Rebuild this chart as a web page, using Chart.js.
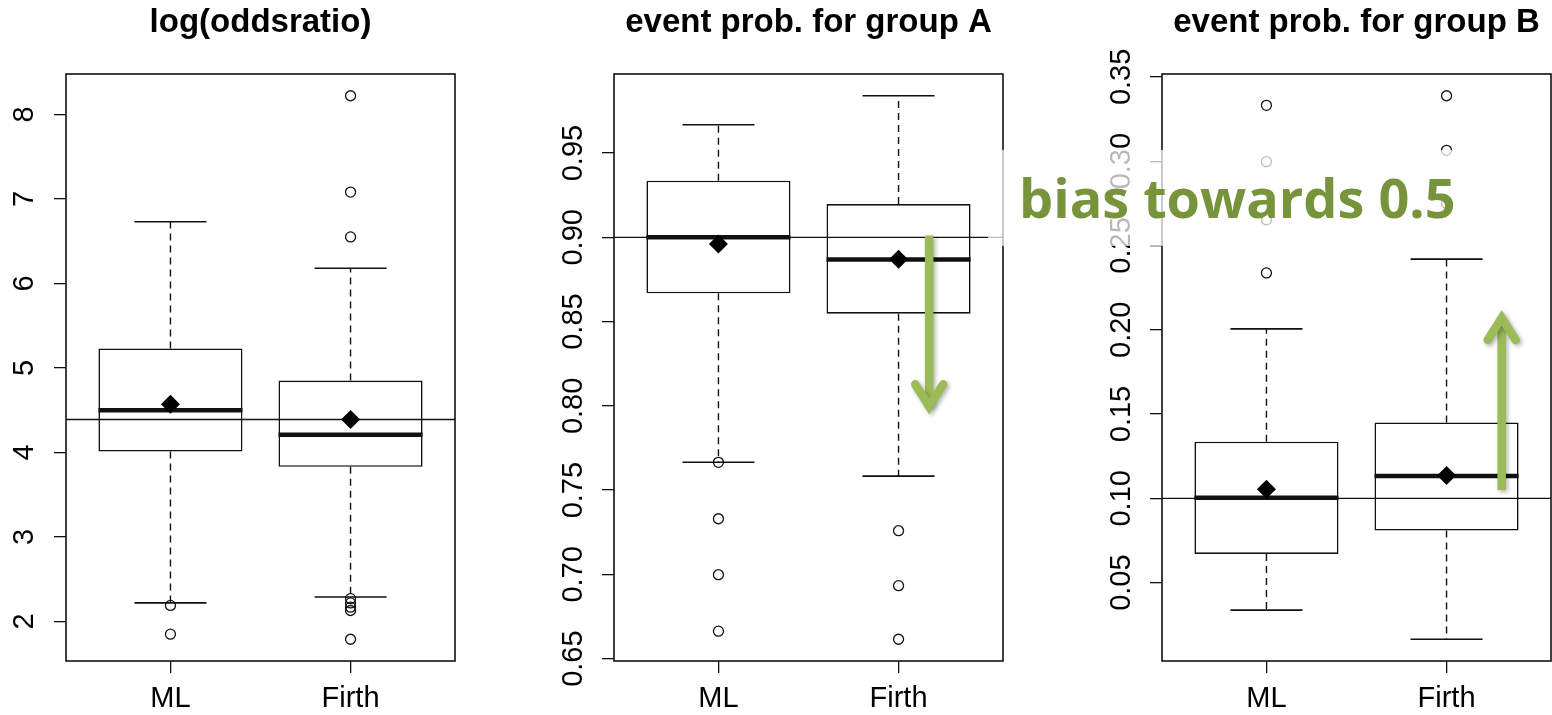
<!DOCTYPE html>
<html>
<head>
<meta charset="utf-8">
<title>ML vs Firth boxplots</title>
<script src="https://cdn.jsdelivr.net/npm/chart.js@4.4.1/dist/chart.umd.min.js"></script>
<style>
  html, body { margin: 0; padding: 0; background: #fff; }
  #page { position: relative; width: 1552px; height: 715px; overflow: hidden; }
  #page canvas { position: absolute; top: 0; }
  #note { position: absolute; left: 988px; top: 150px; width: 477px; height: 96px;
          background: rgba(255, 255, 255, 0.72); }
  #note span { position: absolute; left: 31px; top: 20px; white-space: nowrap;
               font: bold 54px/54px 'Open Sans', sans-serif; color: #77933C; }
</style>
</head>
<body>
<div id="page">
  <canvas id="panelOR" width="521" height="715" style="left:0px"></canvas>
  <canvas id="panelA" width="521" height="715" style="left:548px"></canvas>
  <canvas id="panelB" width="521" height="715" style="left:1096px"></canvas>
  <div id="note"><span>bias towards 0.5</span></div>
</div>
<script>
// categories
var groups = ['ML', 'Firth'];

// log(oddsratio)
var orLow = [2.22, 2.29];
var orQ1 = [4.01, 3.83];
var orMedian = [4.50, 4.21];
var orQ3 = [5.23, 4.85];
var orHigh = [6.73, 6.18];
var orMean = [4.57, 4.39];
var orOutliers = [[2.19, 1.85], [8.22, 7.08, 6.55, 2.27, 2.22, 2.17, 2.13, 1.79]];
var orTrue = 4.39;
var orTicks = [2, 3, 4, 5, 6, 7, 8];

// event prob. for group A
var paLow = [0.7665, 0.7583];
var paQ1 = [0.8668, 0.8547];
var paMedian = [0.900, 0.8869];
var paQ3 = [0.9336, 0.9197];
var paHigh = [0.9668, 0.984];
var paMean = [0.8961, 0.887];
var paOutliers = [[0.7665, 0.733, 0.6998, 0.6663], [0.7259, 0.6933, 0.6615]];
var paTrue = 0.90;
var paTicks = [0.65, 0.70, 0.75, 0.80, 0.85, 0.90, 0.95];
var paArrow = [2.17, 0.901, 0.795]; // x, from, to

// event prob. for group B
var pbLow = [0.0337, 0.0164];
var pbQ1 = [0.0670, 0.0809];
var pbMedian = [0.1004, 0.1133];
var pbQ3 = [0.1336, 0.145];
var pbHigh = [0.2005, 0.2419];
var pbMean = [0.1054, 0.1135];
var pbOutliers = [[0.3331, 0.2997, 0.2652, 0.2337], [0.3388, 0.3064, 0.2749]];
var pbTrue = 0.10;
var pbTicks = [0.05, 0.10, 0.15, 0.20, 0.25, 0.30, 0.35];
var pbArrow = [2.306, 0.105, 0.2117];

var FONT = "'Liberation Sans', Arial, sans-serif";
var INK = '#111';

// whiskers, staples, medians and the true value line, drawn right after the boxes
var boxExtras = {
  id: 'boxExtras',
  afterDatasetDraw: function (chart, args) {
    if (args.index !== 0) return;
    var p = chart.options.plugins.boxExtras;
    var ctx = chart.ctx, y = chart.scales.y, area = chart.chartArea;
    ctx.save();
    ctx.strokeStyle = INK;
    args.meta.data.forEach(function (bar, i) {
      var half = bar.width / 2;
      var cx = bar.x;
      ctx.lineWidth = 1.4;
      ctx.setLineDash([7, 5]);
      ctx.beginPath();
      ctx.moveTo(cx, y.getPixelForValue(p.q3[i]));
      ctx.lineTo(cx, y.getPixelForValue(p.high[i]));
      ctx.moveTo(cx, y.getPixelForValue(p.q1[i]));
      ctx.lineTo(cx, y.getPixelForValue(p.low[i]));
      ctx.stroke();
      ctx.setLineDash([]);
      ctx.lineWidth = 1.6;
      ctx.beginPath();
      ctx.moveTo(cx - half / 2, y.getPixelForValue(p.high[i]));
      ctx.lineTo(cx + half / 2, y.getPixelForValue(p.high[i]));
      ctx.moveTo(cx - half / 2, y.getPixelForValue(p.low[i]));
      ctx.lineTo(cx + half / 2, y.getPixelForValue(p.low[i]));
      ctx.stroke();
      ctx.lineWidth = 4.5;
      ctx.beginPath();
      ctx.moveTo(cx - half, y.getPixelForValue(p.median[i]));
      ctx.lineTo(cx + half, y.getPixelForValue(p.median[i]));
      ctx.stroke();
    });
    ctx.lineWidth = 1.3;
    ctx.beginPath();
    ctx.moveTo(area.left, y.getPixelForValue(p.ref));
    ctx.lineTo(area.right, y.getPixelForValue(p.ref));
    ctx.stroke();
    ctx.restore();
  },
  afterDatasetsDraw: function (chart) {
    var ctx = chart.ctx, a = chart.chartArea;
    ctx.save();
    ctx.strokeStyle = INK;
    ctx.lineWidth = 1.6;
    ctx.strokeRect(a.left, a.top, a.right - a.left, a.bottom - a.top);
    ctx.restore();
  },
  afterDraw: function (chart) {
    var arrow = chart.options.plugins.boxExtras.arrow;
    if (!arrow) return;
    var ctx = chart.ctx;
    var ax = chart.scales.x.getPixelForValue(arrow[0]);
    var y0 = chart.scales.y.getPixelForValue(arrow[1]);
    var y1 = chart.scales.y.getPixelForValue(arrow[2]);
    var dir = y1 > y0 ? 1 : -1;
    var tip = y1 - dir * 8;
    ctx.save();
    ctx.strokeStyle = '#9BBB59';
    ctx.lineWidth = 8.5;
    ctx.shadowColor = 'rgba(0,0,0,0.3)';
    ctx.shadowBlur = 4;
    ctx.shadowOffsetX = 2;
    ctx.shadowOffsetY = 2;
    ctx.lineCap = 'butt';
    ctx.beginPath();
    ctx.moveTo(ax, y0);
    ctx.lineTo(ax, tip);
    ctx.stroke();
    ctx.lineCap = 'round';
    ctx.lineJoin = 'miter';
    ctx.beginPath();
    ctx.moveTo(ax - 14, tip - dir * 22);
    ctx.lineTo(ax, tip);
    ctx.lineTo(ax + 14, tip - dir * 22);
    ctx.stroke();
    ctx.restore();
  }
};

// R style limits: data range stretched by 4% each side
function rLimits(p) {
  var all = p.low.concat(p.high);
  p.outliers.forEach(function (o) { all = all.concat(o); });
  var lo = Math.min.apply(null, all), hi = Math.max.apply(null, all);
  var pad = (hi - lo) * 0.04;
  return [lo - pad, hi + pad];
}

function makePanel(id, p) {
  var lim = rLimits(p);
  var boxes = groups.map(function (g, i) { return { x: i + 1, y: [p.q1[i], p.q3[i]] }; });
  var outs = [];
  p.outliers.forEach(function (list, i) {
    list.forEach(function (v) { outs.push({ x: i + 1, y: v }); });
  });
  var means = groups.map(function (g, i) { return { x: i + 1, y: p.mean[i] }; });
  var tickGrid = { display: true, drawOnChartArea: false, drawTicks: true, tickLength: 12,
                   color: INK, lineWidth: 1.3, offset: false };

  return new Chart(document.getElementById(id), {
    type: 'bar',
    data: {
      datasets: [{
        type: 'bar', order: 3, data: boxes,
        backgroundColor: '#fff', borderColor: INK, borderWidth: 1.6, borderSkipped: false,
        categoryPercentage: 1, barPercentage: 0.8
      }, {
        type: 'scatter', order: 2, data: outs,
        pointRadius: 5, pointBorderWidth: 1.3,
        pointBackgroundColor: 'rgba(0,0,0,0)', pointBorderColor: INK
      }, {
        type: 'scatter', order: 1, data: means,
        pointStyle: 'rectRot', pointRadius: 9.5, pointBorderWidth: 0,
        pointBackgroundColor: '#000', pointBorderColor: '#000'
      }]
    },
    options: {
      responsive: false,
      animation: false,
      events: [],
      layout: { padding: { left: 0, right: 66, top: 0, bottom: 0 } },
      plugins: {
        legend: { display: false },
        tooltip: { enabled: false },
        title: {
          display: true, text: p.title, fullSize: false, color: '#000',
          font: { family: FONT, size: 33, weight: 'bold' },
          padding: { top: 2.8, bottom: 31.6 }
        },
        boxExtras: { low: p.low, q1: p.q1, median: p.median, q3: p.q3, high: p.high,
                     ref: p.ref, arrow: p.arrow }
      },
      scales: {
        x: {
          type: 'linear', min: 0.42, max: 2.58, offset: false,
          grid: tickGrid, border: { display: false },
          afterBuildTicks: function (s) { s.ticks = groups.map(function (g, i) { return { value: i + 1 }; }); },
          afterFit: function (s) { s.height = 54; },
          ticks: {
            color: '#000', padding: 9, font: { family: FONT, size: 29 },
            callback: function (v) { return groups[Math.round(v) - 1]; }
          }
        },
        y: {
          type: 'linear', min: lim[0], max: lim[1], offset: false,
          grid: tickGrid, border: { display: false },
          afterBuildTicks: function (s) { s.ticks = p.ticks.map(function (v) { return { value: v }; }); },
          afterFit: function (s) { s.width = 66; },
          ticks: {
            color: '#000', padding: p.tickPad, autoSkip: false,
            minRotation: 90, maxRotation: 90, crossAlign: 'center',
            font: { family: FONT, size: 29 },
            callback: function (v) { return v.toFixed(p.digits); }
          }
        }
      }
    },
    plugins: [boxExtras]
  });
}

makePanel('panelOR', {
  title: 'log(oddsratio)', low: orLow, q1: orQ1, median: orMedian, q3: orQ3, high: orHigh,
  mean: orMean, outliers: orOutliers, ref: orTrue, ticks: orTicks, digits: 0, tickPad: 21
});
makePanel('panelA', {
  title: 'event prob. for group A', low: paLow, q1: paQ1, median: paMedian, q3: paQ3, high: paHigh,
  mean: paMean, outliers: paOutliers, ref: paTrue, ticks: paTicks, digits: 2, tickPad: 0, arrow: paArrow
});
makePanel('panelB', {
  title: 'event prob. for group B', low: pbLow, q1: pbQ1, median: pbMedian, q3: pbQ3, high: pbHigh,
  mean: pbMean, outliers: pbOutliers, ref: pbTrue, ticks: pbTicks, digits: 2, tickPad: 0, arrow: pbArrow
});
</script>
</body>
</html>
